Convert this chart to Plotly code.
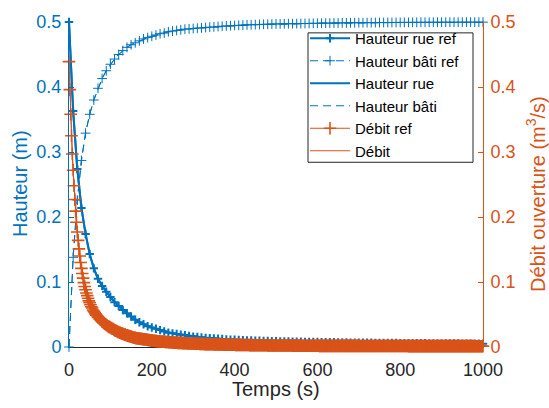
import plotly.graph_objects as go

BLUE = "#0072BD"
ORANGE = "#D95319"
DARK = "#262626"
FONT = "Liberation Sans, Arial, Helvetica, sans-serif"

# Hauteur rue ref (m), one value every 10 s
rue_ref = [
    0.500, 0.363, 0.274, 0.214, 0.174, 0.143, 0.121, 0.105, 0.094, 0.085,
    0.077, 0.069, 0.063, 0.057, 0.052, 0.047, 0.042, 0.038, 0.035, 0.032,
    0.030, 0.028, 0.026, 0.024, 0.022, 0.021, 0.020, 0.019, 0.018, 0.017,
    0.0160, 0.0153, 0.0147, 0.0141, 0.0136, 0.0131, 0.0126, 0.0122, 0.0118, 0.0114,
    0.0111, 0.0108, 0.0105, 0.0102, 0.0100, 0.0098, 0.0096, 0.0094, 0.0092, 0.0090,
    0.0088, 0.0087, 0.0085, 0.0084, 0.0083, 0.0081, 0.0080, 0.0079, 0.0078, 0.0077,
    0.0076, 0.0075, 0.0074, 0.0073, 0.0072, 0.0071, 0.0070, 0.0069, 0.0068, 0.0068,
    0.0067, 0.0066, 0.0065, 0.0065, 0.0064, 0.0063, 0.0063, 0.0062, 0.0061, 0.0061,
    0.0060, 0.0059, 0.0059, 0.0058, 0.0058, 0.0057, 0.0057, 0.0056, 0.0056, 0.0055,
    0.0055, 0.0054, 0.0054, 0.0053, 0.0053, 0.0052, 0.0052, 0.0051, 0.0051, 0.0050,
    0.0050,
]

# Hauteur bâti ref (m), one value every 10 s
bati_ref = [
    0.000, 0.138, 0.226, 0.287, 0.329, 0.358, 0.380, 0.398, 0.413, 0.425,
    0.435, 0.443, 0.450, 0.456, 0.461, 0.465, 0.468, 0.471, 0.474, 0.476,
    0.478, 0.480, 0.482, 0.483, 0.485, 0.486, 0.487, 0.488, 0.489, 0.4895,
    0.4900, 0.4905, 0.4910, 0.4915, 0.4920, 0.4925, 0.4930, 0.4935, 0.4940, 0.4943,
    0.4946, 0.4949, 0.4952, 0.4955, 0.4958, 0.4960, 0.4962, 0.4964, 0.4966, 0.4968,
    0.4970, 0.4971, 0.4972, 0.4973, 0.4974, 0.4975, 0.4976, 0.4977, 0.4978, 0.4979,
    0.4980, 0.4981, 0.4982, 0.4983, 0.4984, 0.4985, 0.4986, 0.4987, 0.4988, 0.4988,
    0.4989, 0.4989, 0.4990, 0.4990, 0.4991, 0.4991, 0.4992, 0.4992, 0.4993, 0.4993,
    0.4994, 0.4994, 0.4994, 0.4995, 0.4995, 0.4995, 0.4996, 0.4996, 0.4996, 0.4996,
    0.4997, 0.4997, 0.4997, 0.4997, 0.4997, 0.4998, 0.4998, 0.4998, 0.4998, 0.4998,
    0.4998,
]

# Débit ref (m3/s), one value every 2 s
debit_ref = [
    0.439, 0.396, 0.358, 0.325, 0.297, 0.272, 0.248, 0.227, 0.209, 0.192,
    0.177, 0.164, 0.151, 0.140, 0.130, 0.121, 0.113, 0.106, 0.099, 0.093,
    0.088, 0.083, 0.079, 0.075, 0.071, 0.068, 0.065, 0.062, 0.060, 0.057,
    0.055, 0.053, 0.051, 0.049, 0.048, 0.046, 0.045, 0.043, 0.042, 0.041,
    0.039, 0.038, 0.037, 0.036, 0.035, 0.034, 0.033, 0.032, 0.031, 0.031,
    0.030, 0.029, 0.028, 0.028, 0.027, 0.026, 0.025, 0.025, 0.024, 0.023,
    0.023, 0.022, 0.022, 0.021, 0.021, 0.020, 0.020, 0.019, 0.019, 0.018,
    0.0180, 0.0175, 0.0170, 0.0167, 0.0163, 0.0160, 0.0155, 0.0150, 0.0146, 0.0143,
    0.0140, 0.0137, 0.0135, 0.0133, 0.0131, 0.0129, 0.0127, 0.0125, 0.0123, 0.0121,
    0.0120, 0.0118, 0.0116, 0.0114, 0.0112, 0.0110, 0.0108, 0.0106, 0.0104, 0.0102,
    0.0100, 0.0098, 0.0097, 0.0095, 0.0094, 0.0092, 0.0091, 0.0089, 0.0088, 0.0086,
    0.0085, 0.0084, 0.0083, 0.0082, 0.0081, 0.0080, 0.0079, 0.0078, 0.0077, 0.0076,
    0.0075, 0.0074, 0.0073, 0.0072, 0.0071, 0.0070, 0.0069, 0.0068, 0.0067, 0.0066,
    0.0065, 0.0064, 0.0064, 0.0063, 0.0062, 0.0062, 0.0061, 0.0060, 0.0059, 0.0059,
    0.0058, 0.0057, 0.0057, 0.0056, 0.0056, 0.0055, 0.0054, 0.0054, 0.0053, 0.0053,
    0.0052, 0.0052, 0.0051, 0.0051, 0.0050, 0.0050, 0.0049, 0.0049, 0.0048, 0.0048,
    0.0047, 0.0047, 0.0046, 0.0046, 0.0045, 0.0045, 0.0045, 0.0044, 0.0044, 0.0043,
    0.0043, 0.0043, 0.0042, 0.0042, 0.0042, 0.0041, 0.0041, 0.0040, 0.0040, 0.0040,
    0.0039, 0.0039, 0.0039, 0.0038, 0.0038, 0.0038, 0.0037, 0.0037, 0.0037, 0.0036,
    0.0036, 0.0036, 0.0036, 0.0035, 0.0035, 0.0035, 0.0035, 0.0034, 0.0034, 0.0034,
    0.0034, 0.0033, 0.0033, 0.0033, 0.0033, 0.0032, 0.0032, 0.0032, 0.0032, 0.0031,
    0.0031, 0.0031, 0.0031, 0.0030, 0.0030, 0.0030, 0.0030, 0.0030, 0.0029, 0.0029,
    0.0029, 0.0029, 0.0029, 0.0028, 0.0028, 0.0028, 0.0028, 0.0028, 0.0027, 0.0027,
    0.0027, 0.0027, 0.0027, 0.0027, 0.0026, 0.0026, 0.0026, 0.0026, 0.0026, 0.0026,
    0.0025, 0.0025, 0.0025, 0.0025, 0.0025, 0.0025, 0.0025, 0.0024, 0.0024, 0.0024,
    0.0024, 0.0024, 0.0024, 0.0024, 0.0023, 0.0023, 0.0023, 0.0023, 0.0023, 0.0023,
    0.0023, 0.0023, 0.0022, 0.0022, 0.0022, 0.0022, 0.0022, 0.0022, 0.0022, 0.0022,
    0.0021, 0.0021, 0.0021, 0.0021, 0.0021, 0.0021, 0.0021, 0.0021, 0.0021, 0.0020,
    0.0020, 0.0020, 0.0020, 0.0020, 0.0020, 0.0020, 0.0020, 0.0020, 0.0020, 0.0019,
    0.0019, 0.0019, 0.0019, 0.0019, 0.0019, 0.0019, 0.0019, 0.0019, 0.0019, 0.0019,
    0.0019, 0.0019, 0.0018, 0.0018, 0.0018, 0.0018, 0.0018, 0.0018, 0.0018, 0.0018,
    0.0018, 0.0018, 0.0018, 0.0018, 0.0018, 0.0018, 0.0018, 0.0018, 0.0018, 0.0018,
    0.0018, 0.0018, 0.0018, 0.0018, 0.0018, 0.0017, 0.0017, 0.0017, 0.0017, 0.0017,
    0.0017, 0.0017, 0.0017, 0.0017, 0.0017, 0.0017, 0.0017, 0.0017, 0.0017, 0.0017,
    0.0017, 0.0017, 0.0017, 0.0017, 0.0017, 0.0017, 0.0017, 0.0017, 0.0017, 0.0017,
    0.0016, 0.0016, 0.0016, 0.0016, 0.0016, 0.0016, 0.0016, 0.0016, 0.0016, 0.0016,
    0.0016, 0.0016, 0.0016, 0.0016, 0.0016, 0.0016, 0.0016, 0.0016, 0.0016, 0.0016,
    0.0016, 0.0016, 0.0016, 0.0016, 0.0016, 0.0016, 0.0016, 0.0016, 0.0016, 0.0016,
    0.0015, 0.0015, 0.0015, 0.0015, 0.0015, 0.0015, 0.0015, 0.0015, 0.0015, 0.0015,
    0.0015, 0.0015, 0.0015, 0.0015, 0.0015, 0.0015, 0.0015, 0.0015, 0.0015, 0.0015,
    0.0015, 0.0015, 0.0015, 0.0015, 0.0015, 0.0015, 0.0015, 0.0015, 0.0015, 0.0015,
    0.0014, 0.0014, 0.0014, 0.0014, 0.0014, 0.0014, 0.0014, 0.0014, 0.0014, 0.0014,
    0.0014, 0.0014, 0.0014, 0.0014, 0.0014, 0.0014, 0.0014, 0.0014, 0.0014, 0.0014,
    0.0014, 0.0014, 0.0014, 0.0014, 0.0014, 0.0014, 0.0014, 0.0014, 0.0014, 0.0014,
    0.0013, 0.0013, 0.0013, 0.0013, 0.0013, 0.0013, 0.0013, 0.0013, 0.0013, 0.0013,
    0.0013, 0.0013, 0.0013, 0.0013, 0.0013, 0.0013, 0.0013, 0.0013, 0.0013, 0.0013,
    0.0013, 0.0013, 0.0013, 0.0013, 0.0013, 0.0013, 0.0013, 0.0013, 0.0013, 0.0013,
    0.0013, 0.0013, 0.0013, 0.0013, 0.0013, 0.0013, 0.0013, 0.0013, 0.0013, 0.0013,
    0.0013, 0.0013, 0.0013, 0.0013, 0.0013, 0.0013, 0.0013, 0.0013, 0.0013, 0.0013,
    0.0012, 0.0012, 0.0012, 0.0012, 0.0012, 0.0012, 0.0012, 0.0012, 0.0012, 0.0012,
    0.0012, 0.0012, 0.0012, 0.0012, 0.0012, 0.0012, 0.0012, 0.0012, 0.0012, 0.0012,
    0.0012,
]

# Model results (coincide with the reference curves)
hauteur_rue = list(rue_ref)
hauteur_bati = list(bati_ref)
debit = list(debit_ref)

t10 = [10 * i for i in range(len(rue_ref))]
t2 = [2 * i for i in range(len(debit_ref))]

x_ticks = [0, 200, 400, 600, 800, 1000]
y_ticks = [0, 0.1, 0.2, 0.3, 0.4, 0.5]

# pixel geometry of the plot area (for paper-coordinate placement)
PX0, PX1, PY0, PY1 = 69, 483, 347, 18
def px(x):
    return (x - PX0) / (PX1 - PX0)
def py(y):
    return (PY0 - y) / (PY0 - PY1)

fig = go.Figure()
fig.add_trace(go.Scatter(
    x=t10, y=rue_ref, name="Hauteur rue ref", mode="lines+markers", cliponaxis=False,
    line=dict(color=BLUE, width=2),
    marker=dict(symbol="cross-thin", size=6, line=dict(color=BLUE, width=2))))
fig.add_trace(go.Scatter(
    x=t10, y=bati_ref, name="Hauteur bâti ref", mode="lines+markers", cliponaxis=False,
    line=dict(color=BLUE, width=1, dash="8px,5px"),
    marker=dict(symbol="cross-thin", size=7, line=dict(color=BLUE, width=1))))
fig.add_trace(go.Scatter(
    x=t10, y=hauteur_rue, name="Hauteur rue", mode="lines", cliponaxis=False,
    line=dict(color=BLUE, width=2)))
fig.add_trace(go.Scatter(
    x=t10, y=hauteur_bati, name="Hauteur bâti", mode="lines", cliponaxis=False,
    line=dict(color=BLUE, width=1, dash="8px,5px")))
fig.add_trace(go.Scatter(
    x=t2, y=debit_ref, name="Débit ref", mode="lines+markers", yaxis="y2", cliponaxis=False,
    line=dict(color=ORANGE, width=1),
    marker=dict(symbol="cross-thin", size=9, line=dict(color=ORANGE, width=1.6))))
fig.add_trace(go.Scatter(
    x=t2, y=debit, name="Débit", mode="lines", yaxis="y2", cliponaxis=False,
    line=dict(color=ORANGE, width=1)))

fig.update_layout(
    width=549, height=408,
    margin=dict(l=69, r=66, t=18, b=61),
    paper_bgcolor="white", plot_bgcolor="white",
    font=dict(family=FONT, size=18, color=DARK),
    showlegend=True,
    legend=dict(
        x=px(305), y=py(18), xanchor="left", yanchor="top",
        bgcolor="rgba(0,0,0,0)", borderwidth=0,
        font=dict(family=FONT, size=15, color="black"),
        itemwidth=40, tracegroupgap=0,
    ),
    shapes=[dict(type="rect", xref="paper", yref="paper", layer="above",
                 x0=px(308), x1=px(473), y0=py(160), y1=py(29),
                 fillcolor="white", line=dict(color=DARK, width=1))],
    xaxis=dict(
        range=[0, 1000], tickvals=x_ticks, ticks="inside", ticklen=5,
        tickcolor=DARK, showline=True, linecolor=DARK, linewidth=1,
        showgrid=False, zeroline=False, layer="below traces",
        tickfont=dict(family=FONT, size=18, color=DARK), ticklabelstandoff=6,
    ),
    yaxis=dict(
        range=[0, 0.5], tickvals=y_ticks, ticks="inside", ticklen=5,
        tickcolor=BLUE, showline=True, linecolor=BLUE, linewidth=1,
        showgrid=False, zeroline=False,
        tickfont=dict(family=FONT, size=18, color=BLUE), ticklabelstandoff=3,
    ),
    yaxis2=dict(
        range=[0, 0.5], tickvals=y_ticks, ticks="inside", ticklen=5,
        overlaying="y", side="right", anchor="x",
        tickcolor=ORANGE, showline=True, linecolor=ORANGE, linewidth=1,
        showgrid=False, zeroline=False,
        tickfont=dict(family=FONT, size=18, color=ORANGE), ticklabelstandoff=3,
    ),
    annotations=[
        dict(text="Hauteur (m)", xref="paper", yref="paper",
             x=px(20), y=py(182), xanchor="center", yanchor="middle",
             textangle=-90, showarrow=False, font=dict(family=FONT, size=20, color=BLUE)),
        dict(text="Temps (s)", xref="paper", yref="paper",
             x=px(276), y=py(390), xanchor="center", yanchor="middle",
             showarrow=False, font=dict(family=FONT, size=20, color=DARK)),
        dict(text="Débit ouverture (m<sup>3</sup>/s)", xref="paper", yref="paper",
             x=px(536), y=py(192), xanchor="center", yanchor="middle",
             textangle=-90, showarrow=False, font=dict(family=FONT, size=20, color=ORANGE)),
    ],
)

fig.write_html("out.html", config={"displayModeBar": False},
               post_script="document.body.style.margin='0px';")
